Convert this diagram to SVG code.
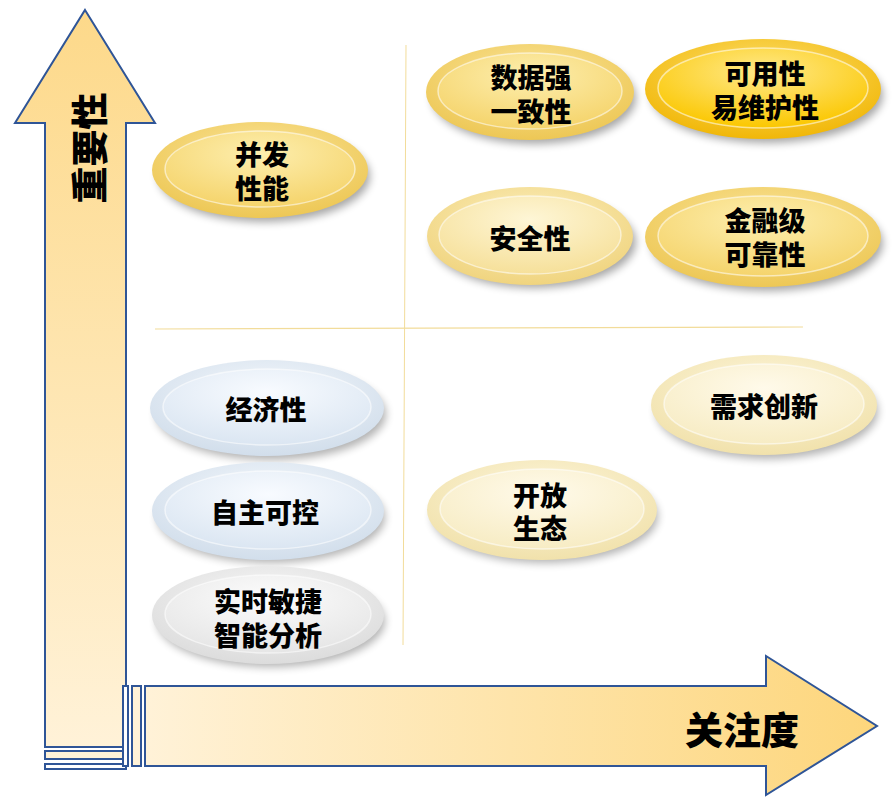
<svg xmlns="http://www.w3.org/2000/svg" width="894" height="806" viewBox="0 0 894 806">
<defs>
<style>
.t{font-family:"Noto Sans CJK SC","Noto Sans",sans-serif;font-weight:900;fill:#000;text-anchor:middle;dominant-baseline:central}
.n{font-size:27px}
.ax{stroke:#2f5597;stroke-width:2}
.inner{stroke:#ffffff;stroke-opacity:0.55;stroke-width:1.5}
</style>
<filter id="sh" x="-20%" y="-30%" width="140%" height="160%"><feGaussianBlur stdDeviation="4"/></filter>
<linearGradient id="gv" x1="0" y1="1" x2="0" y2="0"><stop offset="0" stop-color="#fff2d8"/><stop offset="1" stop-color="#fdd98a"/></linearGradient>
<linearGradient id="gh" x1="0" y1="0" x2="1" y2="0"><stop offset="0" stop-color="#fff2d8"/><stop offset="1" stop-color="#fdd67c"/></linearGradient>
<radialGradient id="gGold" cx="0.5" cy="0.35" r="0.7"><stop offset="0" stop-color="#fbe59a"/><stop offset="1" stop-color="#ecc550"/></radialGradient>
<radialGradient id="gGoldIn" cx="0.5" cy="0.3" r="0.7"><stop offset="0" stop-color="#fdeeae"/><stop offset="1" stop-color="#f5d46c"/></radialGradient>
<radialGradient id="gBright" cx="0.5" cy="0.35" r="0.7"><stop offset="0" stop-color="#fde070"/><stop offset="1" stop-color="#f0b400"/></radialGradient>
<radialGradient id="gBrightIn" cx="0.5" cy="0.3" r="0.7"><stop offset="0" stop-color="#ffe98a"/><stop offset="1" stop-color="#fbc700"/></radialGradient>
<radialGradient id="gLight" cx="0.5" cy="0.35" r="0.7"><stop offset="0" stop-color="#fdf6dc"/><stop offset="1" stop-color="#f0e0a8"/></radialGradient>
<radialGradient id="gLightIn" cx="0.5" cy="0.3" r="0.7"><stop offset="0" stop-color="#fffaea"/><stop offset="1" stop-color="#f7ecc4"/></radialGradient>
<radialGradient id="gSafe" cx="0.5" cy="0.35" r="0.7"><stop offset="0" stop-color="#fcefbe"/><stop offset="1" stop-color="#efd27a"/></radialGradient>
<radialGradient id="gSafeIn" cx="0.5" cy="0.3" r="0.7"><stop offset="0" stop-color="#fef6d6"/><stop offset="1" stop-color="#f6e09a"/></radialGradient>
<radialGradient id="gBlue" cx="0.5" cy="0.35" r="0.7"><stop offset="0" stop-color="#f4f8fc"/><stop offset="1" stop-color="#cfdcea"/></radialGradient>
<radialGradient id="gBlueIn" cx="0.5" cy="0.3" r="0.7"><stop offset="0" stop-color="#f8fbff"/><stop offset="1" stop-color="#dbe6f2"/></radialGradient>
<radialGradient id="gGray" cx="0.5" cy="0.35" r="0.7"><stop offset="0" stop-color="#f8f8f8"/><stop offset="1" stop-color="#dadada"/></radialGradient>
<radialGradient id="gGrayIn" cx="0.5" cy="0.3" r="0.7"><stop offset="0" stop-color="#fcfcfc"/><stop offset="1" stop-color="#e6e6e6"/></radialGradient>
</defs>
<rect width="894" height="806" fill="#fff"/>

<g id="grid">
<line x1="406" y1="45" x2="403" y2="645" stroke="#f2dc9a" stroke-width="1"/>
<line x1="155" y1="329" x2="803" y2="327" stroke="#f2dc9a" stroke-width="1.2"/>
</g>

<g id="axis-y">
<path class="ax" d="M85,10 L155,123 L126,123 L126,747 L45,747 L45,123 L15,123 Z" fill="url(#gv)"/>
<rect class="ax" x="45" y="751" width="81" height="8" fill="#fff2d8" stroke-width="1.5"/>
<rect class="ax" x="45" y="764" width="81" height="5" fill="#fff" stroke-width="1.5"/>
<text class="t" font-size="37" transform="translate(88,148) rotate(-90)">重要性</text>
</g>

<g id="axis-x">
<rect class="ax" x="123" y="686" width="5" height="80" fill="#fff" stroke-width="1.5"/>
<rect class="ax" x="132" y="686" width="9" height="80" fill="#fff2d8" stroke-width="1.5"/>
<path class="ax" d="M145,686 L766,686 L766,656 L877,726 L766,795 L766,766 L145,766 Z" fill="url(#gh)"/>
<text class="t" font-size="38" x="742" y="727">关注度</text>
</g>

<g id="n-bingfa">
<ellipse cx="264" cy="176" rx="106" ry="46" fill="#000" opacity="0.35" filter="url(#sh)"/>
<ellipse cx="260" cy="170" rx="108" ry="48" fill="url(#gGold)"/>
<ellipse class="inner" cx="260" cy="169" rx="95" ry="38" fill="url(#gGoldIn)"/>
<text class="t n" x="262"><tspan x="262" y="153">并发</tspan><tspan x="262" y="187">性能</tspan></text>
</g>

<g id="n-shuju">
<ellipse cx="534" cy="98" rx="102" ry="46" fill="#000" opacity="0.35" filter="url(#sh)"/>
<ellipse cx="530" cy="92" rx="104" ry="48" fill="url(#gGold)"/>
<ellipse class="inner" cx="530" cy="91" rx="92" ry="38" fill="url(#gGoldIn)"/>
<text class="t n"><tspan x="531" y="76">数据强</tspan><tspan x="531" y="110">一致性</tspan></text>
</g>

<g id="n-keyong">
<ellipse cx="767" cy="95" rx="116" ry="48" fill="#000" opacity="0.35" filter="url(#sh)"/>
<ellipse cx="763" cy="89" rx="118" ry="50" fill="url(#gBright)"/>
<ellipse class="inner" cx="763" cy="88" rx="105" ry="40" fill="url(#gBrightIn)"/>
<text class="t n"><tspan x="765" y="72">可用性</tspan><tspan x="765" y="106">易维护性</tspan></text>
</g>

<g id="n-anquan">
<ellipse cx="534" cy="242" rx="102" ry="46" fill="#000" opacity="0.35" filter="url(#sh)"/>
<ellipse cx="530" cy="236" rx="103" ry="49" fill="url(#gSafe)"/>
<ellipse class="inner" cx="530" cy="235" rx="91" ry="39" fill="url(#gSafeIn)"/>
<text class="t n" x="530" y="237">安全性</text>
</g>

<g id="n-jinrong">
<ellipse cx="767" cy="243" rx="116" ry="48" fill="#000" opacity="0.35" filter="url(#sh)"/>
<ellipse cx="763" cy="237" rx="118" ry="50" fill="url(#gGold)"/>
<ellipse class="inner" cx="763" cy="236" rx="105" ry="40" fill="url(#gGoldIn)"/>
<text class="t n"><tspan x="765" y="219">金融级</tspan><tspan x="765" y="253">可靠性</tspan></text>
</g>

<g id="n-xuqiu">
<ellipse cx="767" cy="411" rx="111" ry="48" fill="#000" opacity="0.3" filter="url(#sh)"/>
<ellipse cx="764" cy="405" rx="113" ry="50" fill="url(#gLight)"/>
<ellipse class="inner" cx="764" cy="404" rx="100" ry="40" fill="url(#gLightIn)"/>
<text class="t n" x="764" y="405">需求创新</text>
</g>

<g id="n-jingji">
<ellipse cx="271" cy="414" rx="115" ry="46" fill="#000" opacity="0.3" filter="url(#sh)"/>
<ellipse cx="267" cy="408" rx="117" ry="48" fill="url(#gBlue)"/>
<ellipse class="inner" cx="267" cy="407" rx="104" ry="38" fill="url(#gBlueIn)"/>
<text class="t n" x="266" y="408">经济性</text>
</g>

<g id="n-zizhu">
<ellipse cx="271" cy="517" rx="114" ry="46" fill="#000" opacity="0.3" filter="url(#sh)"/>
<ellipse cx="268" cy="511" rx="116" ry="49" fill="url(#gBlue)"/>
<ellipse class="inner" cx="268" cy="510" rx="103" ry="39" fill="url(#gBlueIn)"/>
<text class="t n" x="265" y="511">自主可控</text>
</g>

<g id="n-shishi">
<ellipse cx="271" cy="621" rx="114" ry="46" fill="#000" opacity="0.3" filter="url(#sh)"/>
<ellipse cx="268" cy="615" rx="116" ry="49" fill="url(#gGray)"/>
<ellipse class="inner" cx="268" cy="614" rx="103" ry="39" fill="url(#gGrayIn)"/>
<text class="t n"><tspan x="268" y="600">实时敏捷</tspan><tspan x="268" y="634">智能分析</tspan></text>
</g>

<g id="n-kaifang">
<ellipse cx="545" cy="516" rx="113" ry="47" fill="#000" opacity="0.3" filter="url(#sh)"/>
<ellipse cx="542" cy="510" rx="115" ry="50" fill="url(#gLight)"/>
<ellipse class="inner" cx="542" cy="509" rx="102" ry="40" fill="url(#gLightIn)"/>
<text class="t n"><tspan x="540" y="494">开放</tspan><tspan x="540" y="527">生态</tspan></text>
</g>
</svg>
